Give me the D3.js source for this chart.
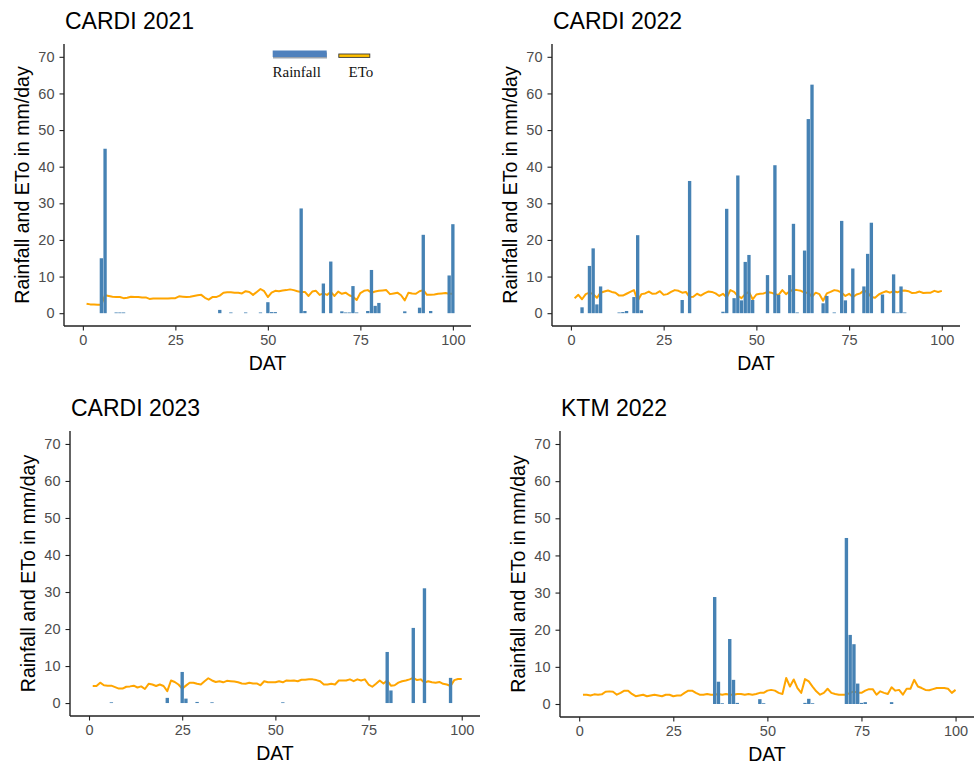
<!DOCTYPE html>
<html>
<head>
<meta charset="utf-8">
<script src="https://cdn.jsdelivr.net/npm/d3@7"></script>
<style>
  html, body { margin: 0; padding: 0; background: #ffffff; }
  svg { display: block; }
</style>
</head>
<body>
<svg id="chart" width="977" height="763"></svg>
<script>
// Days after transplanting (DAT) 1..100 for the ETo series
const dat = d3.range(1, 101);

// Reference evapotranspiration (mm/day), one value per DAT
const etoCardi2021 = [2.6,2.4,2.4,2.3,2.3,4.9,4.7,4.5,4.4,4.4,4.1,4.2,4.5,4.4,4.4,4.3,4.3,3.9,4.0,4.0,
  4.0,4.0,4.0,4.1,4.1,4.6,4.5,4.4,4.5,4.7,4.9,5.0,4.2,3.7,4.4,4.4,4.8,5.6,5.7,5.7,
  5.6,5.6,5.4,6.0,5.8,5.0,5.8,6.6,6.0,4.4,5.6,6.1,6.0,6.2,6.3,6.5,6.3,6.0,5.8,5.8,
  4.7,5.9,6.1,5.0,5.4,5.0,5.8,4.7,5.9,5.3,5.6,4.9,4.5,3.6,5.5,6.1,6.3,5.6,5.9,6.1,
  6.2,6.3,5.2,5.4,5.6,4.9,3.5,5.6,5.4,5.3,6.0,6.3,5.0,5.0,5.1,5.3,5.4,5.5,5.3,5.3];
const etoCardi2022 = [4.1,5.0,3.8,5.2,5.6,5.2,4.2,5.6,5.9,6.2,5.8,5.6,4.8,4.8,5.3,5.8,6.3,3.4,5.2,5.4,
  5.9,5.3,5.4,6.0,5.0,5.2,5.8,6.3,6.1,5.6,5.8,4.4,4.5,5.3,4.8,5.4,5.9,5.8,5.4,4.7,
  5.3,4.3,6.3,5.8,4.7,4.1,5.2,5.8,3.8,5.1,5.3,5.4,5.8,5.6,5.2,5.0,6.3,5.2,6.0,6.4,
  6.3,6.1,5.6,5.6,4.5,5.6,5.2,3.4,5.4,5.8,6.3,6.1,5.6,4.7,5.3,4.4,5.1,5.4,6.2,5.6,
  4.4,4.2,5.1,5.6,6.0,5.6,6.0,5.7,6.1,6.2,6.0,5.5,5.6,5.9,5.5,5.6,5.6,6.1,5.8,6.1];
const etoCardi2023 = [4.6,4.6,5.5,4.8,4.7,4.7,4.3,3.9,3.9,4.4,4.5,4.7,4.2,4.5,3.8,5.2,5.0,4.6,5.0,4.6,
  3.2,6.1,5.7,5.0,3.9,4.7,5.5,5.5,5.2,5.0,5.9,6.7,6.1,5.7,5.9,5.6,6.0,5.9,5.8,5.6,
  5.3,5.2,5.5,5.3,5.3,4.8,5.9,5.6,5.6,5.6,5.9,5.6,6.1,6.0,6.1,5.9,6.3,6.3,6.4,6.4,
  6.2,5.9,5.0,5.0,5.2,5.0,6.1,6.1,6.1,6.4,5.9,6.4,6.1,6.4,5.0,4.4,5.2,6.1,5.3,6.1,
  4.7,4.8,5.5,5.9,6.1,6.4,6.8,6.2,6.4,5.5,5.9,5.6,5.5,5.7,5.2,5.0,4.6,6.2,6.5,6.5];
const etoKtm2022 = [2.5,2.5,2.3,2.6,2.5,2.6,3.3,3.4,3.3,2.5,3.0,3.6,3.6,2.7,2.1,2.3,2.5,2.1,2.3,2.5,
  2.3,2.1,2.5,2.5,2.1,2.3,2.3,3.0,3.6,3.6,3.0,2.5,2.5,2.7,2.5,2.5,2.7,2.5,2.7,2.5,
  2.5,2.7,2.7,2.5,2.7,2.5,2.7,3.0,3.0,3.6,3.8,3.6,3.0,2.7,7.0,4.7,6.6,4.3,3.0,6.7,
  6.1,4.7,3.4,2.5,3.0,4.1,3.0,2.7,2.5,2.5,2.5,3.0,3.4,3.0,3.0,3.6,4.0,4.0,2.5,3.4,
  3.0,2.7,4.5,3.6,3.8,2.5,4.1,4.1,6.5,4.7,4.3,3.8,3.7,4.0,4.3,4.3,4.3,4.1,3.0,3.8];

// Daily rainfall (mm/day): rain days and amounts
const rainDaysCardi2021 = [5,6,9,10,11,37,40,44,48,50,51,52,59,60,65,67,70,71,72,73,74,77,78,79,80,87,91,92,94,99,100];
const rainCardi2021 = [15.0,44.9,0.2,0.2,0.2,0.9,0.2,0.2,0.2,3.0,0.3,0.3,28.6,0.6,8.1,14.1,0.5,0.2,0.2,7.4,0.2,0.6,11.8,2.0,2.8,0.5,1.5,21.4,0.6,10.3,24.3];
const rainDaysCardi2022 = [3,5,6,7,8,13,14,15,17,18,19,30,32,41,42,44,45,46,47,48,49,53,55,56,59,60,61,63,64,65,68,69,71,73,74,76,79,80,81,84,87,88,89,90];
const rainCardi2022 = [1.6,12.9,17.7,2.4,7.3,0.2,0.3,0.6,4.4,21.3,0.8,3.6,36.1,0.4,28.5,4.1,37.6,3.5,14.0,15.9,3.6,10.4,40.4,5.0,10.4,24.4,0.2,17.1,53.0,62.4,2.7,4.7,0.2,25.2,3.5,12.2,7.3,16.2,24.7,5.1,10.6,0.2,7.3,0.2];
const rainDaysCardi2023 = [6,21,25,26,29,33,52,80,81,87,90,97];
const rainCardi2023 = [0.2,1.4,8.4,1.2,0.3,0.2,0.2,13.8,3.4,20.3,31.0,6.8];
const rainDaysKtm2022 = [36,37,38,40,41,42,48,49,60,61,62,71,72,73,74,75,76,83];
const rainKtm2022 = [28.8,6.0,0.2,17.5,6.5,0.3,1.3,0.2,0.3,1.4,0.2,44.7,18.6,16.1,5.5,0.3,0.5,0.5];

// Axis breaks and labels
const xTicks = [0, 25, 50, 75, 100];
const yTicks = [0, 10, 20, 30, 40, 50, 60, 70];
const panelTitles = ["CARDI 2021", "CARDI 2022", "CARDI 2023", "KTM 2022"];
const legendLabels = ["Rainfall", "ETo"];
const yTitle = "Rainfall and ETo in mm/day";
const xTitle = "DAT";

const panels = [
  { title: panelTitles[0], days: rainDaysCardi2021, rain: rainCardi2021, eto: etoCardi2021,
    box: { left: 64, right: 471, top: 44, bottom: 326 }, legend: true },
  { title: panelTitles[1], days: rainDaysCardi2022, rain: rainCardi2022, eto: etoCardi2022,
    box: { left: 552, right: 960, top: 44, bottom: 326 } },
  { title: panelTitles[2], days: rainDaysCardi2023, rain: rainCardi2023, eto: etoCardi2023,
    box: { left: 70, right: 480, top: 431, bottom: 716 } },
  { title: panelTitles[3], days: rainDaysKtm2022, rain: rainKtm2022, eto: etoKtm2022,
    box: { left: 560, right: 974, top: 431, bottom: 717 } }
];

const SANS = "'Liberation Sans', Arial, sans-serif";
const SERIF = "'Liberation Serif', 'Times New Roman', serif";
const BAR = "#4682B4";
const LINE = "#FFA500";
const AXIS = "#222222";
const TICKTEXT = "#4D4D4D";

const svg = d3.select("#chart");

function drawPanel(p) {
  const b = p.box;
  const x = d3.scaleLinear().domain([-5.1, 104.9]).range([b.left, b.right]);
  const y = d3.scaleLinear().domain([-3.5, 73.5]).range([b.bottom, b.top]);
  const g = svg.append("g");

  // ETo line (under the rainfall bars)
  const line = d3.line().x((d, i) => x(dat[i])).y(d => y(d));
  g.append("path")
    .datum(p.eto)
    .attr("d", line)
    .attr("fill", "none")
    .attr("stroke", LINE)
    .attr("stroke-width", 2)
    .attr("stroke-linejoin", "round");

  // Rainfall bars
  const bw = 0.9;
  g.append("g").selectAll("rect")
    .data(p.days.map((d, i) => ({ d, v: p.rain[i] })))
    .join("rect")
    .attr("x", r => x(r.d - bw / 2))
    .attr("width", r => x(r.d + bw / 2) - x(r.d - bw / 2))
    .attr("y", r => y(r.v))
    .attr("height", r => y(0) - y(r.v))
    .attr("fill", BAR);

  // Y axis
  const ya = d3.axisLeft(y).tickValues(yTicks).tickSize(4.5).tickPadding(5);
  const yg = g.append("g").attr("transform", `translate(${b.left},0)`).call(ya);
  yg.select(".domain").remove();
  yg.append("line").attr("x1", 0).attr("x2", 0).attr("y1", b.top).attr("y2", b.bottom)
    .attr("stroke", AXIS).attr("stroke-width", 1.4);

  // X axis
  const xa = d3.axisBottom(x).tickValues(xTicks).tickSize(4.5).tickPadding(4);
  const xg = g.append("g").attr("transform", `translate(0,${b.bottom})`).call(xa);
  xg.select(".domain").remove();
  xg.append("line").attr("x1", b.left).attr("x2", b.right).attr("y1", 0).attr("y2", 0)
    .attr("stroke", AXIS).attr("stroke-width", 1.4);

  [yg, xg].forEach(ax => {
    ax.selectAll(".tick line").attr("stroke", AXIS).attr("stroke-width", 1.1);
    ax.selectAll(".tick text").attr("fill", TICKTEXT)
      .style("font-family", SANS).style("font-size", "14.5px");
  });

  // Titles
  g.append("text").attr("x", b.left + 1).attr("y", b.top - 15)
    .text(p.title).attr("fill", "#000")
    .style("font-family", SANS).style("font-size", "23px");

  g.append("text")
    .attr("transform", `translate(${b.left - 42},${(b.top + b.bottom) / 2}) rotate(-90)`)
    .attr("text-anchor", "middle").attr("dominant-baseline", "central")
    .text(yTitle).attr("fill", "#000")
    .style("font-family", SANS).style("font-size", "19.5px");

  g.append("text")
    .attr("x", (b.left + b.right) / 2).attr("y", b.bottom + 43.5)
    .attr("text-anchor", "middle")
    .text(xTitle).attr("fill", "#000")
    .style("font-family", SANS).style("font-size", "19.5px");

  if (p.legend) {
    const lg = g.append("g");
    lg.append("rect").attr("x", 273).attr("y", 52.5).attr("width", 54).attr("height", 6)
      .attr("fill", "#9aa3ad");
    lg.append("rect").attr("x", 272.7).attr("y", 50.5).attr("width", 54).attr("height", 6.5)
      .attr("fill", "#4F81BD");
    lg.append("rect").attr("x", 338.8).attr("y", 54).attr("width", 31).attr("height", 3.4)
      .attr("fill", "#FFC000").attr("stroke", "#3a3a3a").attr("stroke-width", 0.9);
    lg.append("text").attr("x", 272.5).attr("y", 76.5).text(legendLabels[0])
      .attr("fill", "#111").style("font-family", SERIF).style("font-size", "15px");
    lg.append("text").attr("x", 348.5).attr("y", 76.5).text(legendLabels[1])
      .attr("fill", "#111").style("font-family", SERIF).style("font-size", "15px");
  }
}

panels.forEach(drawPanel);
</script>
</body>
</html>
